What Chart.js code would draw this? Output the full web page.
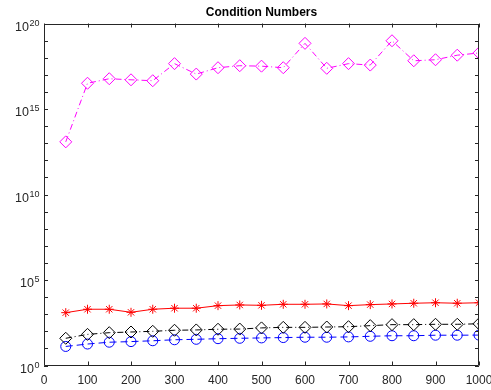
<!DOCTYPE html>
<html>
<head>
<meta charset="utf-8">
<script src="https://cdn.jsdelivr.net/npm/chart.js@4.4.1/dist/chart.umd.min.js"></script>
<style>
  html, body { margin: 0; padding: 0; background: #fff; }
  #wrap { position: relative; width: 491px; height: 390px; }
</style>
</head>
<body>
<div id="wrap"><canvas id="c"></canvas></div>
<script>
// matrix sizes
const sizes = [50, 100, 150, 200, 250, 300, 350, 400, 450, 500, 550, 600, 650, 700, 750, 800, 850, 900, 950, 1000];

// condition numbers
const condMagenta = [1.2e13, 3.2e16, 5.9e16, 5.1e16, 4.5e16, 4.5e17, 1.1e17, 2.6e17, 3.4e17, 3.2e17,
  2.6e17, 6.9e18, 2.4e17, 4.5e17, 3.7e17, 9.8e18, 6.6e17, 7.6e17, 1.4e18, 1.9e18];
const condRed = [1230, 1950, 1950, 1290, 1950, 2240, 2240, 3160, 3470, 3310,
  3800, 3800, 3980, 3160, 3630, 3980, 4370, 4680, 4370, 4680];
const condBlack = [39, 66, 83, 91, 100, 115, 120, 132, 135, 158,
  170, 170, 178, 186, 214, 245, 245, 257, 257, 275];
const condBlue = [13, 18, 23, 25, 28, 32, 34, 37, 39, 41,
  43, 45, 45, 47, 51, 55, 55, 59, 59, 60];

const xTicks = [0, 100, 200, 300, 400, 500, 600, 700, 800, 900, 1000];
const yDecades = [0, 1, 2, 3, 4, 5, 6, 7, 8, 9, 10, 11, 12, 13, 14, 15, 16, 17, 18, 19, 20];
const yLabelDecades = [0, 5, 10, 15, 20];

const FONT = "'Liberation Sans', Helvetica, Arial, sans-serif";

function series(data, color, style, radius, dash) {
  return {
    data: data.map((v, i) => ({ x: sizes[i], y: v })),
    borderColor: color,
    borderWidth: 1,
    borderDash: dash,
    pointStyle: style,
    pointRadius: radius,
    pointHoverRadius: radius,
    pointBorderColor: color,
    pointBackgroundColor: "rgba(0,0,0,0)",
    pointBorderWidth: 1,
    tension: 0,
  };
}

// MATLAB-style box, inward ticks and 10^n labels
const boxTicks = {
  id: "boxTicks",
  afterDraw(chart) {
    const { ctx, chartArea: a } = chart;
    const xs = chart.scales.x, ys = chart.scales.y;
    ctx.save();
    ctx.strokeStyle = "#262626";
    ctx.lineWidth = 1;
    ctx.beginPath();
    ctx.rect(Math.round(a.left) + 0.5, Math.round(a.top) + 0.5,
      Math.round(a.right - a.left) - 1, Math.round(a.bottom - a.top) - 1);
    const len = 4;
    xTicks.forEach(t => {
      const px = Math.round(xs.getPixelForValue(t)) + 0.5;
      ctx.moveTo(px, a.bottom); ctx.lineTo(px, a.bottom - len);
      ctx.moveTo(px, a.top); ctx.lineTo(px, a.top + len);
    });
    yDecades.forEach(d => {
      const py = Math.round(ys.getPixelForValue(Math.pow(10, d))) + 0.5;
      ctx.moveTo(a.left, py); ctx.lineTo(a.left + len, py);
      ctx.moveTo(a.right, py); ctx.lineTo(a.right - len, py);
    });
    ctx.stroke();

    ctx.fillStyle = "#262626";
    // x labels
    ctx.font = "12px " + FONT;
    ctx.textAlign = "center";
    ctx.textBaseline = "alphabetic";
    xTicks.forEach(t => {
      ctx.fillText(String(t), xs.getPixelForValue(t), a.bottom + 18.5);
    });
    // y labels with superscript exponent
    const right = a.left - 4.5;
    yLabelDecades.forEach(d => {
      const py = ys.getPixelForValue(Math.pow(10, d));
      const exp = String(d);
      ctx.font = "9px " + FONT;
      ctx.textAlign = "right";
      const ew = ctx.measureText(exp).width;
      ctx.fillText(exp, right, py + 2);
      ctx.font = "12.5px " + FONT;
      ctx.fillText("10", right - ew - 0.5, py + 7);
    });
    ctx.restore();
  }
};

new Chart(document.getElementById("c"), {
  type: "line",
  data: {
    datasets: [
      series(condMagenta, "#ff00ff", "rectRot", 6, [6, 3, 1, 3]),
      series(condRed, "#ff0000", "star", 4.5, []),
      series(condBlack, "#000000", "rectRot", 6, [6, 3, 1, 3]),
      series(condBlue, "#0000ff", "circle", 5, [7, 4]),
    ]
  },
  options: {
    responsive: true,
    maintainAspectRatio: false,
    animation: false,
    layout: { padding: { left: 0, right: 12, top: 0, bottom: 0 } },
    plugins: {
      legend: { display: false },
      tooltip: { enabled: false },
      title: {
        display: true,
        fullSize: false,
        text: "Condition Numbers",
        color: "#000",
        font: { family: FONT, size: 12, weight: "bold" },
        padding: { top: 5, bottom: 4.1 }
      }
    },
    scales: {
      x: {
        type: "linear",
        min: 0,
        max: 1000,
        grid: { display: false },
        border: { display: false },
        afterBuildTicks: axis => { axis.ticks = xTicks.map(v => ({ value: v })); },
        afterFit: axis => { axis.height = 24.5; axis.paddingLeft = 0; axis.paddingRight = 0; },
        ticks: { display: false }
      },
      y: {
        type: "logarithmic",
        min: 1,
        max: 1e20,
        grid: { display: false },
        border: { display: false },
        afterBuildTicks: axis => { axis.ticks = yDecades.map(d => ({ value: Math.pow(10, d) })); },
        afterFit: axis => { axis.width = 44; axis.paddingTop = 0; axis.paddingBottom = 0; },
        ticks: { display: false }
      }
    }
  },
  plugins: [boxTicks]
});
</script>
</body>
</html>
